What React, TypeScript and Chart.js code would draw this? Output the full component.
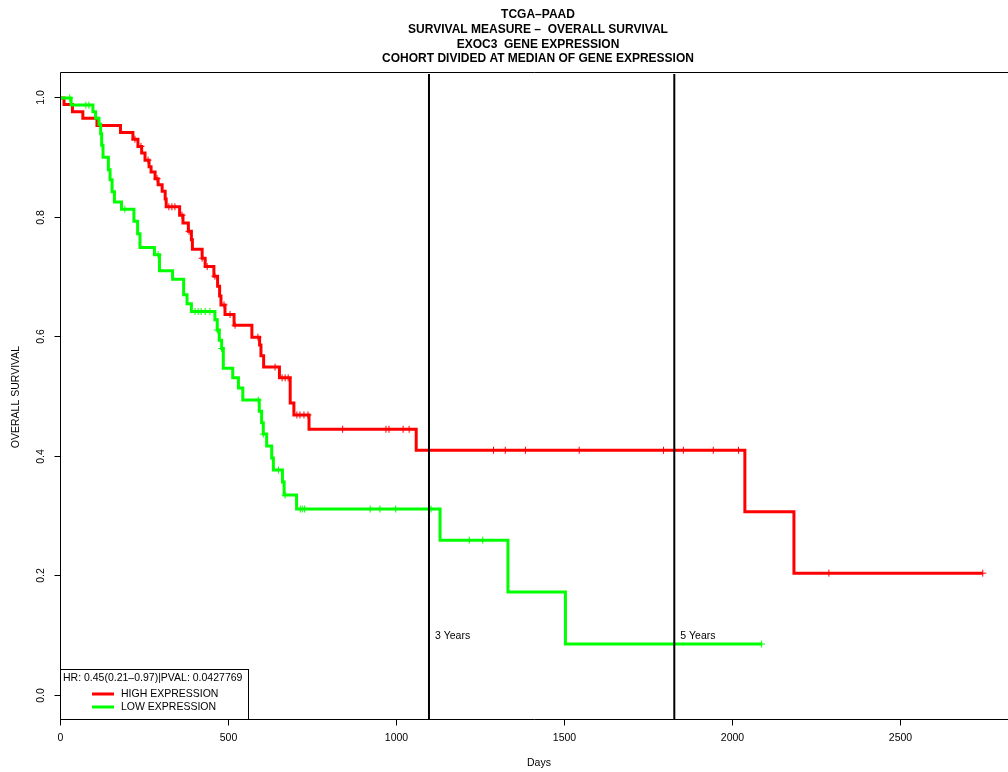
import React, { useEffect, useRef } from "react";
import { Chart, registerables } from "chart.js";

Chart.register(...registerables);

const FONT = '"Liberation Sans", Arial, Helvetica, sans-serif';

const titleLines = [
  "TCGA–PAAD",
  "SURVIVAL MEASURE –  OVERALL SURVIVAL",
  "EXOC3  GENE EXPRESSION",
  "COHORT DIVIDED AT MEDIAN OF GENE EXPRESSION",
];
const xTicks = [0, 500, 1000, 1500, 2000, 2500];
const yTicks = [0, 0.2, 0.4, 0.6, 0.8, 1.0];
const yTickLabels = ["0.0", "0.2", "0.4", "0.6", "0.8", "1.0"];
const yearDays = [1095, 1825];
const yearLabels = ["3 Years", "5 Years"];
const seriesNames = ["HIGH EXPRESSION", "LOW EXPRESSION"];
const statsText = "HR: 0.45(0.21–0.97)|PVAL: 0.0427769";

// HIGH expression group: event days and survival right after each event
const highEventDays = [
  9, 34, 65, 107, 177, 214, 229, 240, 250, 262,
  268, 280, 289, 301, 310, 313, 353, 363, 379, 388,
  391, 420, 429, 455, 466, 472, 476, 488, 515, 568,
  591, 595, 603, 650, 682, 693, 738, 1057, 2035, 2181,
];
const highSurvival = [
  0.989, 0.977, 0.966, 0.954, 0.942, 0.931, 0.919, 0.908, 0.896, 0.885,
  0.876, 0.865, 0.855, 0.844, 0.831, 0.818, 0.804, 0.791, 0.777, 0.763,
  0.747, 0.732, 0.718, 0.702, 0.685, 0.669, 0.654, 0.638, 0.62, 0.6,
  0.587, 0.569, 0.55, 0.532, 0.49, 0.47, 0.446, 0.411, 0.308, 0.2055,
];
const highCensorDays = [
  220, 238, 259, 286, 321, 330, 339, 360, 381, 420, 435, 458, 485, 503, 518,
  586, 637, 658, 667, 676, 702, 711, 723, 735, 838, 967, 976, 1018, 1036,
  1287, 1322, 1382, 1542, 1793, 1852, 1941, 2016, 2285, 2743,
];

// LOW expression group
const lowEventDays = [
  30, 95, 103, 113, 118, 121, 125, 141, 146, 152,
  159, 180, 217, 228, 235, 278, 293, 332, 365, 375,
  388, 458, 465, 471, 478, 483, 511, 528, 541, 590,
  597, 602, 612, 627, 632, 659, 664, 701, 1128, 1330, 1501,
];
const lowSurvival = [
  0.988, 0.977, 0.966, 0.956, 0.94, 0.921, 0.901, 0.88, 0.863, 0.843,
  0.826, 0.814, 0.794, 0.773, 0.75, 0.738, 0.711, 0.697, 0.671, 0.656,
  0.643, 0.629, 0.612, 0.595, 0.581, 0.548, 0.532, 0.515, 0.495, 0.476,
  0.457, 0.438, 0.418, 0.398, 0.378, 0.358, 0.336, 0.3127, 0.2606, 0.1738, 0.0869,
];
const lowCensorDays = [
  26, 74, 83, 190, 289, 399, 408, 417, 429, 443, 465, 478, 587, 602, 647,
  667, 712, 718, 725, 920, 949, 996, 1101, 1215, 1255, 2085,
];

const RED = "#ff0000";
const GREEN = "#00ff00";

function levelAt(days: number[], surv: number[], t: number) {
  let s = 1;
  for (let i = 0; i < days.length; i++) if (days[i] <= t) s = surv[i];
  return s;
}

function stepPoints(days: number[], surv: number[], censor: number[]) {
  const pts = [{ x: 0, y: 1 }];
  days.forEach((d, i) => pts.push({ x: d, y: surv[i] }));
  const end = Math.max(...censor, ...days);
  pts.push({ x: end, y: levelAt(days, surv, end) });
  return pts;
}

function censorPoints(days: number[], surv: number[], censor: number[]) {
  return censor.map((t) => ({ x: t, y: levelAt(days, surv, t) }));
}

const decorations = {
  id: "kmDecorations",
  afterDraw(chart: any) {
    const { ctx, chartArea: a, scales } = chart;
    const xs = scales.x;
    const ys = scales.y;
    const left = Math.round(a.left) - 0.5;
    const top = Math.round(a.top) - 1.5;
    const bottom = Math.round(a.bottom) - 0.5;
    ctx.save();
    ctx.strokeStyle = "#000";
    ctx.fillStyle = "#000";
    ctx.lineWidth = 1;

    // plot box
    ctx.beginPath();
    ctx.moveTo(a.right + 20, top);
    ctx.lineTo(left, top);
    ctx.lineTo(left, bottom);
    ctx.lineTo(a.right + 20, bottom);
    ctx.stroke();

    // x axis ticks & labels
    ctx.font = `10.5px ${FONT}`;
    ctx.textAlign = "center";
    ctx.textBaseline = "middle";
    xTicks.forEach((v) => {
      const px = Math.round(xs.getPixelForValue(v)) - 0.5;
      ctx.beginPath();
      ctx.moveTo(px, bottom);
      ctx.lineTo(px, bottom + 6);
      ctx.stroke();
      ctx.fillText(String(v), px, bottom + 19);
    });

    // y axis ticks & rotated labels
    yTicks.forEach((v, i) => {
      const py = Math.round(ys.getPixelForValue(v)) - 0.5;
      ctx.beginPath();
      ctx.moveTo(left, py);
      ctx.lineTo(left - 6, py);
      ctx.stroke();
      ctx.save();
      ctx.translate(left - 19, py);
      ctx.rotate(-Math.PI / 2);
      ctx.fillText(yTickLabels[i], 0, 0);
      ctx.restore();
    });

    // axis titles
    ctx.fillText("Days", 539, 763);
    ctx.save();
    ctx.translate(16, (a.top + a.bottom) / 2);
    ctx.rotate(-Math.PI / 2);
    ctx.fillText("OVERALL SURVIVAL", 0, 0);
    ctx.restore();

    // title
    ctx.font = `bold 12px ${FONT}`;
    const titleY = [15, 30, 44.5, 59];
    titleLines.forEach((line, i) => ctx.fillText(line, 538, titleY[i]));

    // year labels
    ctx.font = `10.5px ${FONT}`;
    ctx.textAlign = "left";
    yearDays.forEach((d, i) => {
      ctx.fillText(yearLabels[i], xs.getPixelForValue(d) + 6, ys.getPixelForValue(0.1));
    });

    // legend box
    const lx0 = left;
    const lx1 = 248.5;
    const ly0 = 669.5;
    ctx.fillStyle = "#fff";
    ctx.fillRect(lx0, ly0, lx1 - lx0, bottom - ly0);
    ctx.strokeRect(lx0, ly0, lx1 - lx0, bottom - ly0);
    ctx.fillStyle = "#000";
    ctx.fillText(statsText, 63, 678.5);
    const colors = [RED, GREEN];
    const rowY = [694, 707];
    seriesNames.forEach((name, i) => {
      ctx.strokeStyle = colors[i];
      ctx.lineWidth = 3;
      ctx.beginPath();
      ctx.moveTo(92, rowY[i]);
      ctx.lineTo(114, rowY[i]);
      ctx.stroke();
      ctx.fillStyle = "#000";
      ctx.fillText(name, 121, rowY[i]);
    });
    ctx.restore();
  },
};

export default function App() {
  const ref = useRef<HTMLCanvasElement>(null);

  useEffect(() => {
    if (!ref.current) return;
    const yearLineSets = yearDays.map((d) => ({
      label: `year-${d}`,
      data: [
        { x: d, y: -0.04 },
        { x: d, y: 1.04 },
      ],
      borderColor: "#000",
      borderWidth: 2,
      pointRadius: 0,
      fill: false,
    }));
    const chart = new Chart(ref.current, {
      type: "line",
      data: {
        datasets: [
          ...yearLineSets,
          {
            label: "low-censor",
            data: censorPoints(lowEventDays, lowSurvival, lowCensorDays),
            showLine: false,
            pointStyle: "cross",
            pointRadius: 3.5,
            borderWidth: 1,
            borderColor: GREEN,
            backgroundColor: GREEN,
          },
          {
            label: seriesNames[1],
            data: stepPoints(lowEventDays, lowSurvival, lowCensorDays),
            stepped: true,
            borderColor: GREEN,
            borderWidth: 3,
            pointRadius: 0,
            fill: false,
          },
          {
            label: "high-censor",
            data: censorPoints(highEventDays, highSurvival, highCensorDays),
            showLine: false,
            pointStyle: "cross",
            pointRadius: 3.5,
            borderWidth: 1,
            borderColor: RED,
            backgroundColor: RED,
          },
          {
            label: seriesNames[0],
            data: stepPoints(highEventDays, highSurvival, highCensorDays),
            stepped: true,
            borderColor: RED,
            borderWidth: 3,
            pointRadius: 0,
            fill: false,
          },
        ] as any,
      },
      options: {
        animation: false,
        responsive: false,
        devicePixelRatio: 1,
        events: [],
        layout: { autoPadding: false, padding: { left: 61, top: 74, right: 0, bottom: 52 } },
        plugins: {
          legend: { display: false },
          title: { display: false },
          tooltip: { enabled: false },
        },
        scales: {
          x: { type: "linear", min: 0, max: 2818, display: false },
          y: { type: "linear", min: -0.04, max: 1.04, display: false },
        },
      },
      plugins: [decorations],
    });
    return () => chart.destroy();
  }, []);

  return (
    <div style={{ position: "absolute", left: 0, top: 0, width: 1008, height: 772, background: "#fff" }}>
      <canvas ref={ref} width={1008} height={772} style={{ display: "block", width: 1008, height: 772 }} />
    </div>
  );
}
